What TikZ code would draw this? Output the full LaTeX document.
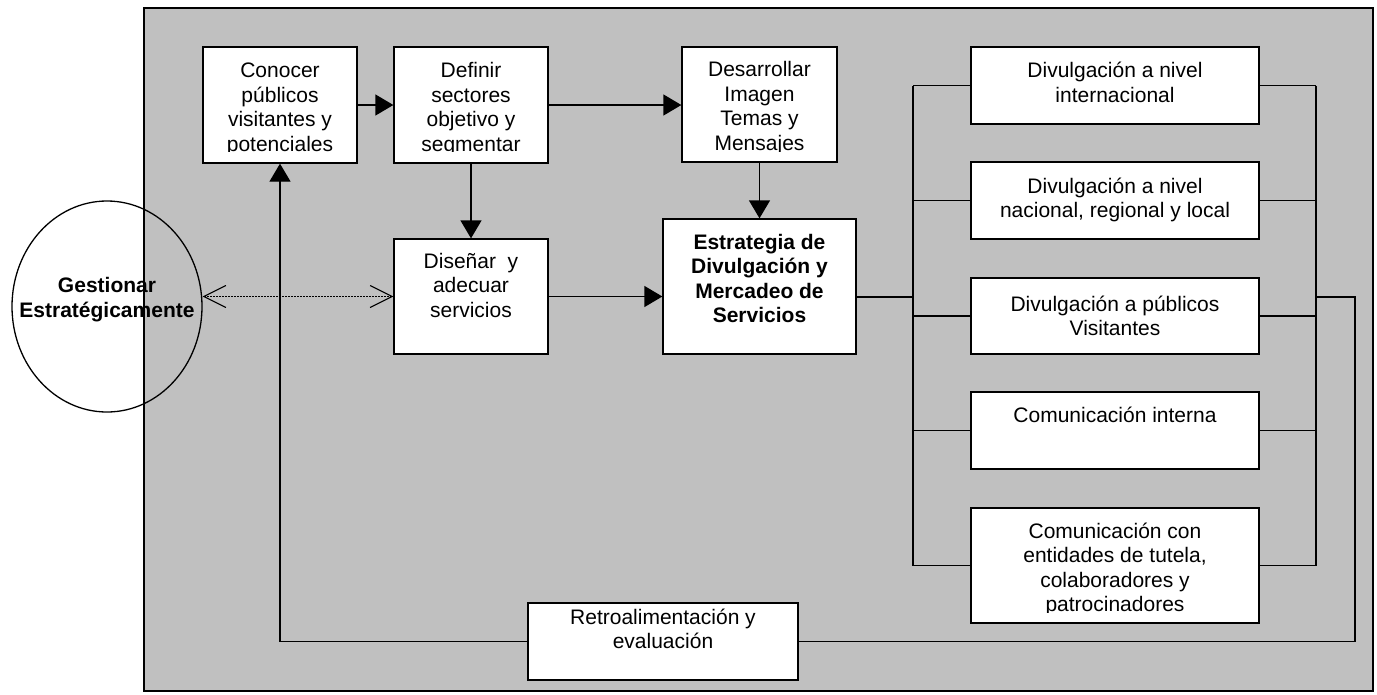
\documentclass[tikz,border=0pt]{standalone}
\usepackage{fontspec}
\setmainfont{Liberation Sans}
\usetikzlibrary{arrows.meta,shapes.geometric}
\definecolor{panel}{RGB}{192,192,192}
\begin{document}
\begin{tikzpicture}[x=1pt,y=-1pt,
  box/.style={draw,fill=white,line width=1.3pt,inner sep=0pt},
  txt/.style={font=\fontsize{21}{24.5}\selectfont,align=center,inner sep=0pt,
    execute at begin node=\strut,execute at end node=\strut},
  btxt/.style={txt,font=\fontsize{21}{24.5}\selectfont\bfseries},
  conn/.style={line width=1.3pt},
  arr/.style={conn,-{Triangle[length=18pt,width=21pt]}},
  dotline/.style={line width=1.1pt,dash pattern=on 1.4pt off 1.6pt,
    {Straight Barb[length=22pt,width=22pt,line width=1.1pt]}-{Straight Barb[length=22pt,width=22pt,line width=1.1pt]}}
]
\useasboundingbox (0,0) rectangle (1377,694);
\path[fill=panel,draw,line width=1.3pt] (144,8) rectangle (1373,691);

% ellipse
\node[ellipse,draw,line width=1.3pt,minimum width=190pt,minimum height=211pt,inner sep=0pt] (Ges) at (107,306.5) {};
\node[btxt] (GesT) at (107,300.9) {Gestionar\\Estratégicamente};

% boxes
\node[box,minimum width=154pt,minimum height=116pt] (Con) at (280,105) {};
\node[box,minimum width=154pt,minimum height=116pt] (Def) at (471,105) {};
\node[box,minimum width=155pt,minimum height=115pt] (Des) at (759.5,104.5) {};
\node[box,minimum width=154pt,minimum height=115pt] (Dis) at (471,296.5) {};
\node[box,minimum width=193pt,minimum height=135pt] (Est) at (759.5,286.5) {};
\node[box,minimum width=288pt,minimum height=77pt] (B1) at (1115,85.5) {};
\node[box,minimum width=288pt,minimum height=77pt] (B2) at (1115,200.5) {};
\node[box,minimum width=288pt,minimum height=76pt] (B3) at (1115,316) {};
\node[box,minimum width=288pt,minimum height=77pt] (B4) at (1115,430.5) {};
\node[box,minimum width=288pt,minimum height=115pt] (B5) at (1115,565.5) {};
\node[box,minimum width=270pt,minimum height=77pt] (Ret) at (663,641.5) {};

% texts (last lines of some boxes are cut off, as in the text boxes of the original)
\begin{scope}
  \clip (Con.north west) rectangle ([yshift=12pt]Con.south east);
  \node[txt] (ConT) at (280,110.6) {Conocer\\públicos\\visitantes y\\potenciales};
\end{scope}
\begin{scope}
  \clip (Def.north west) rectangle ([yshift=12pt]Def.south east);
  \node[txt] (DefT) at (471,110.6) {Definir\\sectores\\objetivo y\\segmentar};
\end{scope}
\begin{scope}
  \clip (Des.north west) rectangle ([yshift=11pt]Des.south east);
  \node[txt] (DesT) at (759.5,109.4) {Desarrollar\\Imagen\\Temas y\\Mensajes};
\end{scope}
\begin{scope}
  \clip (B5.north west) rectangle ([yshift=11pt]B5.south east);
  \node[txt] (B5T) at (1115,570.9) {Comunicación con\\entidades de tutela,\\colaboradores y\\patrocinadores};
\end{scope}
\node[txt] (DisT) at (471,288.6) {Diseñar\ \ y\\adecuar\\servicios};
\node[btxt] (EstT) at (759.5,282.3) {Estrategia de\\Divulgación y\\Mercadeo de\\Servicios};
\node[txt] (B1T) at (1115,85.7) {Divulgación a nivel\\internacional};
\node[txt] (B2T) at (1115,201.2) {Divulgación a nivel\\nacional, regional y local};
\node[txt] (B3T) at (1115,319.3) {Divulgación a públicos\\Visitantes};
\node[txt] (B4T) at (1115,417.1) {Comunicación interna};
\node[txt] (RetT) at (663,632.6) {Retroalimentación y\\evaluación};

% connectors
\draw[arr] (Con.east) -- (Def.west);
\draw[arr] (Def.east) -- (Def.east -| Des.west);
\draw[arr] (Def.south) -- (Dis.north);
\draw[arr] (Des.south) -- (Est.north);
\draw[arr] (Dis.east) -- (Dis.east -| Est.west);
\draw[dotline] (Ges.east |- Dis.west) -- (Dis.west);

\coordinate (jL) at (913,297);
\coordinate (jR) at (1316,297);
\coordinate (oR) at (1355,297);
\draw[conn] (jL -| Est.east) -- (jL);
\draw[conn] (B1.west -| jL) -- (B5.west -| jL);
\draw[conn] (B1.east -| jR) -- (B5.east -| jR);
\foreach \b in {B1,B2,B3,B4,B5}{
  \draw[conn] (\b.west -| jL) -- (\b.west);
  \draw[conn] (\b.east) -- (\b.east -| jR);
}
\draw[conn] (jR) -- (oR) |- (Ret.east);
\draw[arr] (Ret.west) -| (Con.south);
\end{tikzpicture}
\end{document}
